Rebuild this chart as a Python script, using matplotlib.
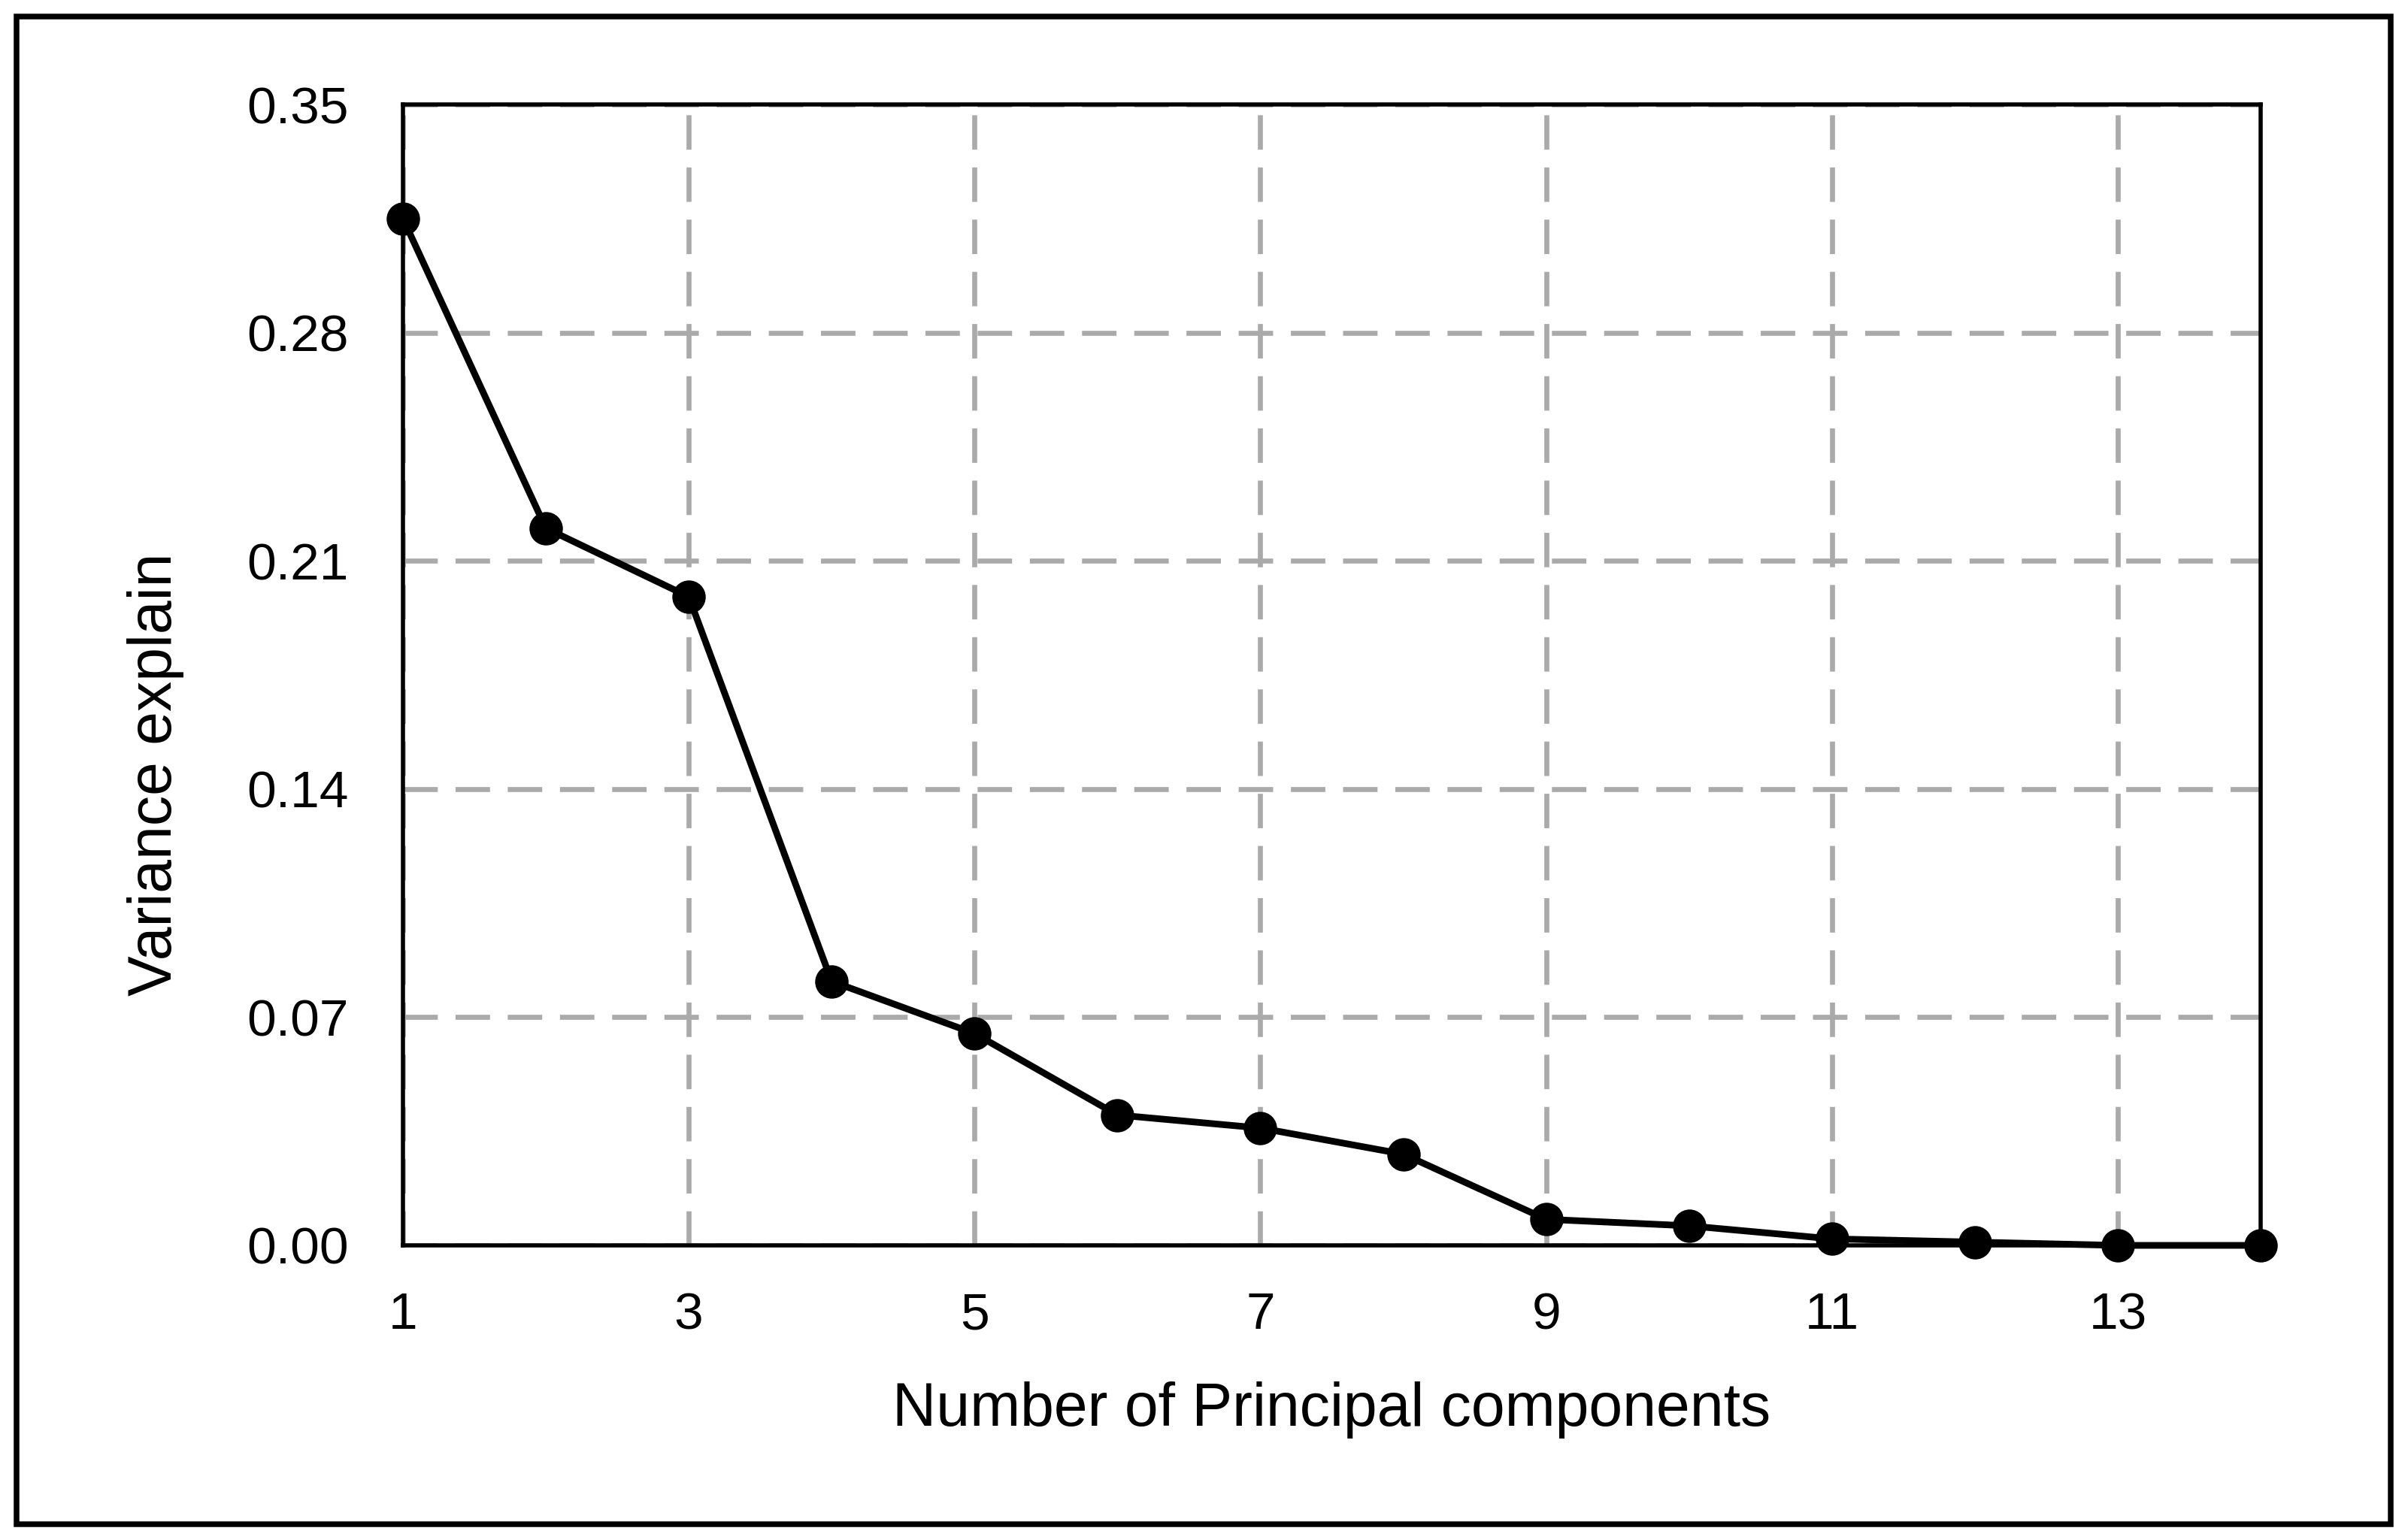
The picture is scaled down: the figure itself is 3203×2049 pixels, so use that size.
import numpy as np
import matplotlib
matplotlib.use("Agg")
import matplotlib.pyplot as plt
from matplotlib.patches import Rectangle

# --- data ---
components = [1, 2, 3, 4, 5, 6, 7, 8, 9, 10, 11, 12, 13, 14]
variance = [0.315, 0.220, 0.199, 0.081, 0.065, 0.040, 0.036, 0.028,
            0.008, 0.006, 0.002, 0.001, 0.000, 0.000]
x_ticks = [1, 3, 5, 7, 9, 11, 13]
y_ticks = [0.00, 0.07, 0.14, 0.21, 0.28, 0.35]

plt.rcParams['font.family'] = ['Liberation Sans', 'DejaVu Sans']
plt.rcParams['lines.scale_dashes'] = False

W, H, DPI = 3203, 2049, 200
fig = plt.figure(figsize=(W / DPI, H / DPI), dpi=DPI)
fig.patch.set_facecolor('white')

# axes placement (pixels -> fractions)
left, right, top, bottom = 536, 3007, 139, 1657
ax = fig.add_axes([left / W, 1 - bottom / H, (right - left) / W, (bottom - top) / H])

ax.plot(components, variance, color='black', lw=3.2, marker='o',
        markersize=15, markerfacecolor='black', markeredgecolor='black',
        zorder=5, clip_on=False)

ax.set_xlim(1, 14)
ax.set_ylim(0, 0.35)
ax.set_xticks(x_ticks)
ax.set_yticks(y_ticks)
ax.set_yticklabels([f'{v:.2f}' for v in y_ticks])
ax.tick_params(length=0, labelsize=25)
ax.tick_params(axis='y', pad=26)
ax.tick_params(axis='x', pad=22)

ax.grid(True, color='#AAAAAA', lw=2.4, linestyle=(0, (16.5, 8.5)))
ax.set_axisbelow(True)
for s in ax.spines.values():
    s.set_linewidth(2.0)
    s.set_color('black')

ax.set_xlabel('Number of Principal components', fontsize=29, labelpad=20)
# the y label sits a bit below the middle of the axis in the original
ax.set_ylabel('Variance explain', fontsize=29, labelpad=30, y=0.413)

# outer frame around the whole chart
fig.patches.append(Rectangle((22 / W, 1 - 2028 / H), (3180 - 22) / W, (2028 - 22) / H,
                             transform=fig.transFigure, fill=False,
                             edgecolor='black', lw=2.7))

fig.savefig('out.png', dpi=DPI)
